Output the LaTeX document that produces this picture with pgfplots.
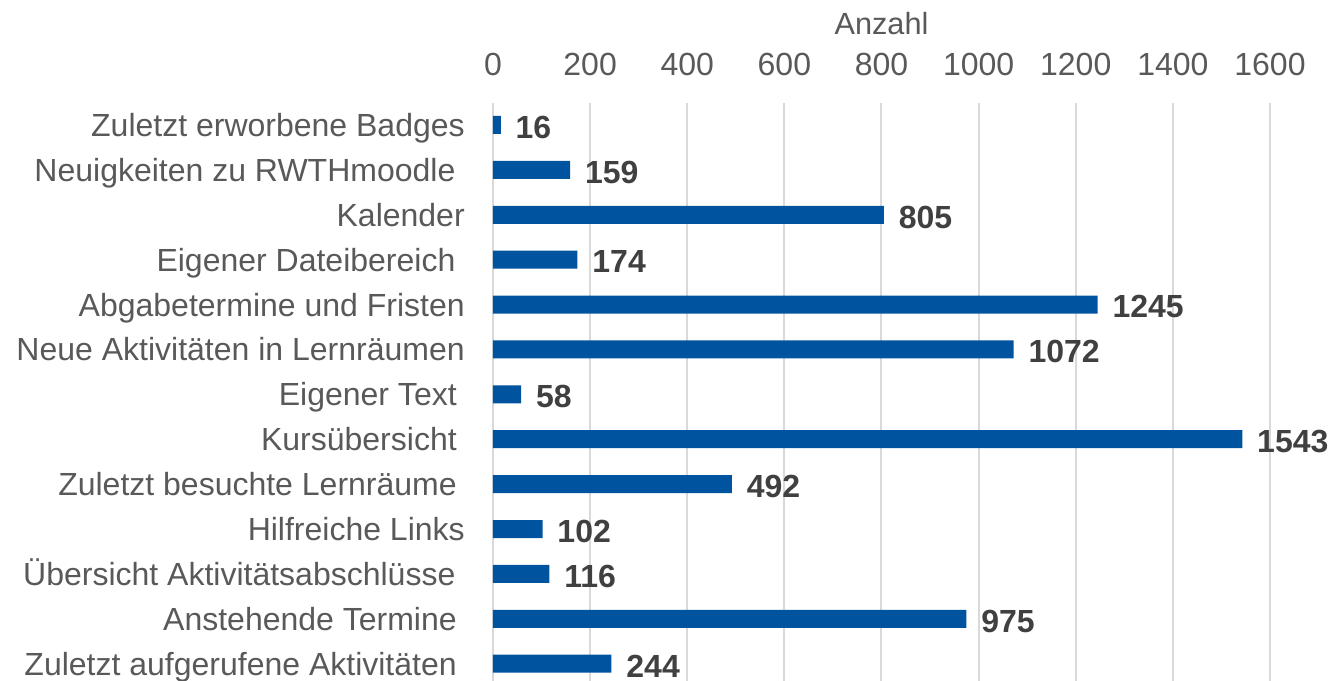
\documentclass[border=0pt]{standalone}
\usepackage{pgfplots}
\pgfplotsset{compat=1.18}
\usepackage{fontspec}
\setmainfont{Liberation Sans}
\definecolor{rwth}{HTML}{00549F}
\definecolor{lbl}{HTML}{595959}
\definecolor{val}{HTML}{404040}
\definecolor{gridc}{HTML}{D9D9D9}
\begin{document}
\begin{tikzpicture}
\begin{axis}[
  name=ax,
  scale only axis,
  width=582.75pt, height=433.7pt,
  xbar, bar width=13.5pt,
  xmin=0, xmax=1600,
  ymin=-0.38, ymax=12.5,
  xtick={0,200,...,1600},
  ytick={0,...,12},
  yticklabels={
    Zuletzt aufgerufene Aktivitäten\hspace*{6pt},
    Anstehende Termine\hspace*{6pt},
    Übersicht Aktivitätsabschlüsse\hspace*{7pt},
    Hilfreiche Links,
    Zuletzt besuchte Lernräume\hspace*{6pt},
    Kursübersicht\hspace*{6pt},
    Eigener Text\hspace*{6pt},
    Neue Aktivitäten in Lernräumen,
    Abgabetermine und Fristen,
    Eigener Dateibereich\hspace*{7pt},
    Kalender,
    Neuigkeiten zu RWTHmoodle\hspace*{7pt},
    Zuletzt erworbene Badges},
  xticklabel pos=upper,
  axis line style={draw=none},
  major tick length=0pt,
  xmajorgrids,
  major grid style={draw=gridc, line width=1.5pt},
  tick label style={font=\fontsize{24}{28}\selectfont, text=lbl},
  /pgf/number format/assume math mode=true,
  /pgf/number format/1000 sep={},
  xticklabel style={inner sep=0pt, anchor=south, yshift=19.5pt},
  yticklabel style={inner sep=0pt, anchor=base east, xshift=-21pt, yshift=-8.6pt},
  nodes near coords,
  nodes near coords style={font=\fontsize{24}{28}\selectfont\bfseries, text=val, anchor=base west, inner sep=0pt, xshift=11pt, yshift=-10pt},
  clip=false,
]
\addplot[fill=rwth, draw=none] coordinates {
  (244,0) (975,1) (116,2) (102,3) (492,4) (1543,5) (58,6)
  (1072,7) (1245,8) (174,9) (805,10) (159,11) (16,12)
};
\end{axis}
\node[font=\fontsize{23}{27}\selectfont, text=lbl, anchor=base, inner sep=0pt] at ([yshift=51pt]ax.north) {Anzahl};
\pgfresetboundingbox
\path[use as bounding box] ([xshift=-369.75pt]ax.south west) rectangle ([xshift=44.25pt,yshift=76.9pt]ax.north east);
\end{tikzpicture}
\end{document}
